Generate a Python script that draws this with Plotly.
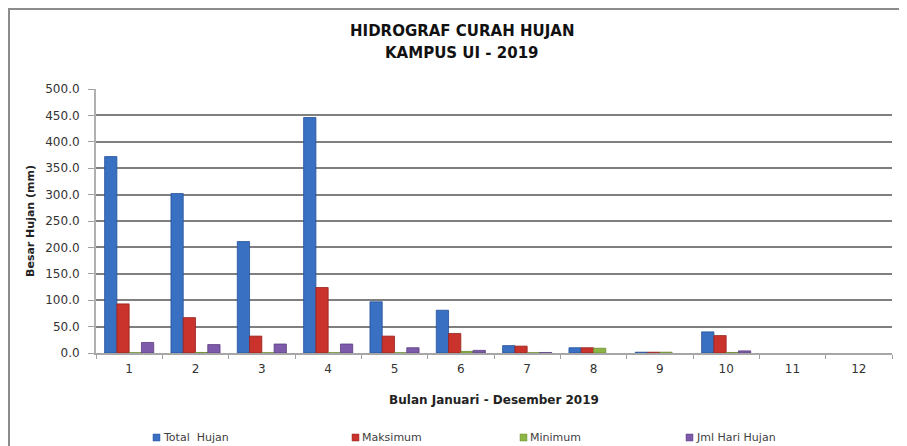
import plotly.graph_objects as go

months = ["1", "2", "3", "4", "5", "6", "7", "8", "9", "10", "11", "12"]
total_hujan = [372, 302, 211, 446, 97, 81, 14, 10, 1.5, 40, 0, 0]
maksimum = [93, 67, 32, 124, 32, 37, 13, 10, 1.5, 33, 0, 0]
minimum = [0.5, 1, 0.5, 0.5, 0.5, 3, 0.5, 9, 1.5, 1, 0, 0]
jml_hari = [20, 16, 17, 17, 10, 5, 1, 0, 0, 4, 0, 0]
y_ticks = [0, 50, 100, 150, 200, 250, 300, 350, 400, 450, 500]

OFF = 8  # page body margin
W, H = 907 - OFF, 446 - OFF
L, T = 96 - OFF, 89 - OFF
R = W - (892 - OFF)
B = H - (353 - OFF)
pw, ph = W - L - R, H - T - B

font = "'DejaVu Sans', sans-serif"

def px_x(p):  # page pixel -> paper
    return (p - OFF - L) / pw

def px_y(p):
    return 1 - (p - OFF - T) / ph

fig = go.Figure()
series = [
    ("Total  Hujan", total_hujan, "#3A70C2", "#24519A", 157),
    ("Maksimum", maksimum, "#C9332C", "#962320", 356),
    ("Minimum", minimum, "#8DB545", "#6A8C2E", 524),
    ("Jml Hari Hujan", jml_hari, "#7E5AAA", "#5B3F80", 690),
]
annotations = [
    dict(text="<b>HIDROGRAF CURAH HUJAN</b>", xref="paper", yref="paper",
         x=px_x(462), y=px_y(31), xanchor="center", yanchor="middle", showarrow=False,
         font=dict(size=15, color="#111111")),
    dict(text="<b>KAMPUS UI - 2019</b>", xref="paper", yref="paper",
         x=px_x(462), y=px_y(53), xanchor="center", yanchor="middle", showarrow=False,
         font=dict(size=15, color="#111111")),
]
shapes = [
    dict(type="rect", xref="paper", yref="paper",
         x0=px_x(9), x1=px_x(920), y0=px_y(460), y1=px_y(9),
         line=dict(color="#8C8C8C", width=2), fillcolor="rgba(0,0,0,0)", layer="below"),
]
for name, vals, col, edge, lx in series:
    fig.add_trace(go.Bar(
        x=months, y=vals, name=name, showlegend=False,
        marker=dict(color=col, line=dict(color=edge, width=[0 if v == 0 else 0.8 for v in vals])),
    ))
    shapes.append(dict(type="rect", xref="paper", yref="paper",
                       x0=px_x(lx - 4), x1=px_x(lx + 3), y0=px_y(441), y1=px_y(434),
                       fillcolor=col, line=dict(color=edge, width=0.5)))
    annotations.append(dict(text=name, xref="paper", yref="paper",
                            x=px_x(lx + 4), y=px_y(437), xanchor="left", yanchor="middle",
                            showarrow=False, font=dict(size=11, color="#404040")))

fig.update_layout(
    width=W, height=H,
    margin=dict(l=L, r=R, t=T, b=B, autoexpand=False),
    paper_bgcolor="white", plot_bgcolor="white",
    barmode="group", bargap=0.26, bargroupgap=0,
    font=dict(family=font, size=12, color="#333333"),
    showlegend=False,
    xaxis=dict(
        type="category", tickson="boundaries", ticks="outside", ticklen=4,
        tickcolor="#A0A0A0", showline=True, linecolor="#A6A6A6", linewidth=2,
        showgrid=False, tickfont=dict(size=12, color="#333333"), ticklabelstandoff=4,
        title=dict(text="<b>Bulan Januari - Desember 2019</b>", font=dict(size=12, color="#222222"), standoff=20),
    ),
    yaxis=dict(
        range=[0, 500], tickvals=y_ticks, tickformat=".1f", ticks="outside", ticklen=6,
        tickcolor="#A0A0A0", showline=True, linecolor="#B0B0B0", linewidth=2,
        showgrid=True, gridcolor="#7F7F7F", gridwidth=1.5, zeroline=False,
        tickfont=dict(size=12, color="#333333"), ticklabelstandoff=6,
        title=dict(text="<b>Besar Hujan (mm)</b>", font=dict(size=11, color="#222222"), standoff=8),
    ),
    shapes=shapes,
    annotations=annotations,
)

fig.write_html("out.html")
